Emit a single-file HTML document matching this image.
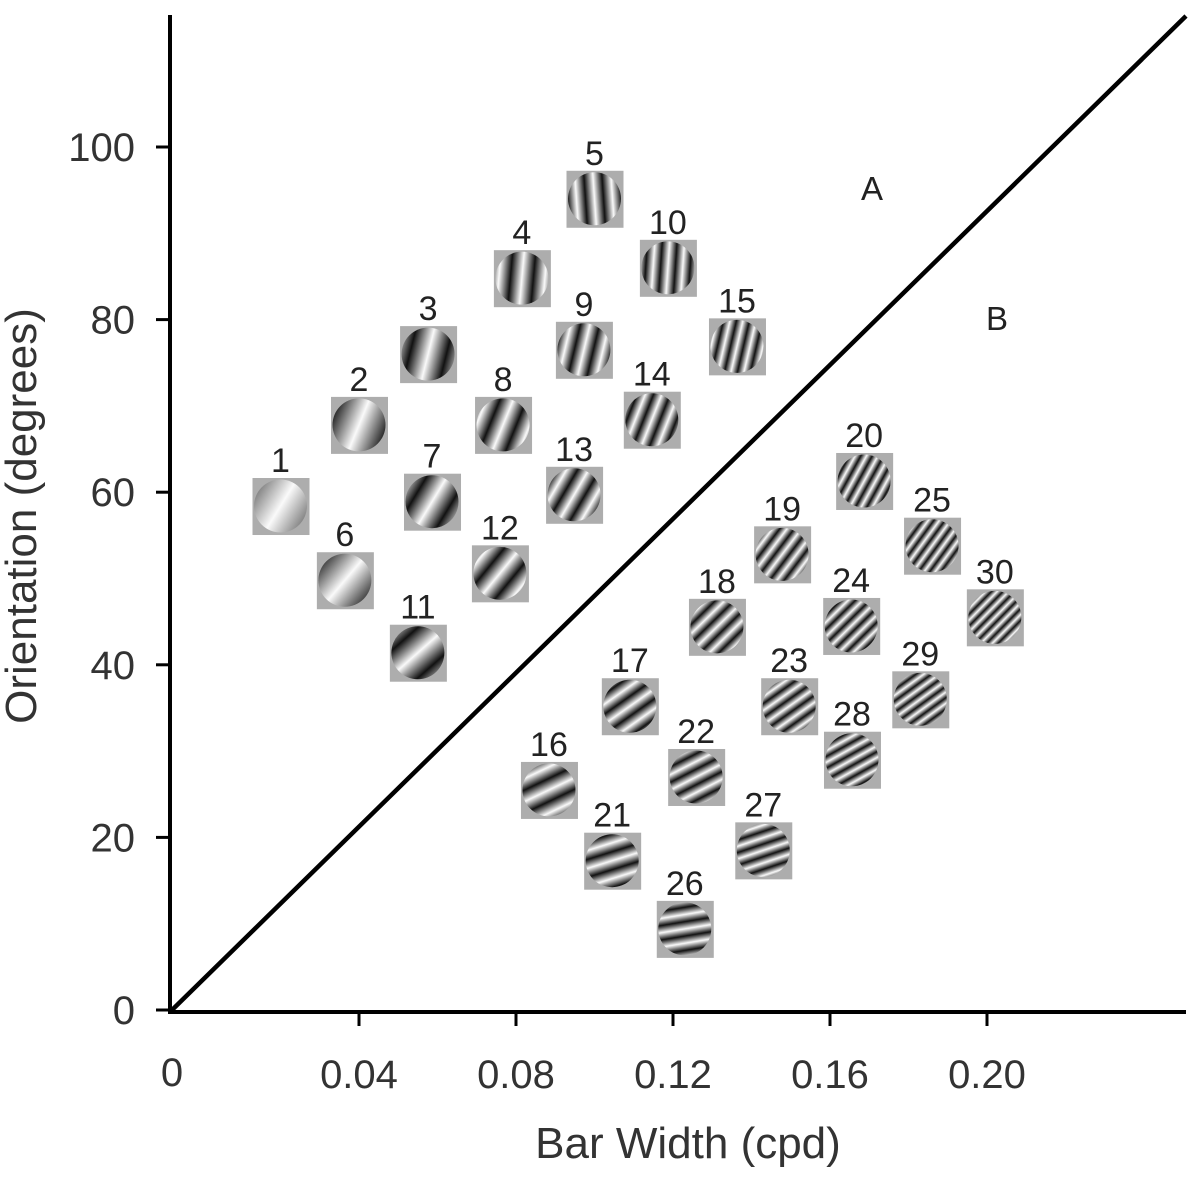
<!DOCTYPE html>
<html><head><meta charset="utf-8"><style>
html,body{margin:0;padding:0;background:#fff;}
svg{display:block;font-family:"Liberation Sans",sans-serif;}
</style></head><body>
<svg id="chart" width="1192" height="1188" viewBox="0 0 1192 1188" xmlns="http://www.w3.org/2000/svg">
<defs id="defs"></defs>
<g id="axes"></g>
<g id="patches"></g>
</svg>
<script>
const ids = [1,2,3,4,5,6,7,8,9,10,11,12,13,14,15,16,17,18,19,20,21,22,23,24,25,26,27,28,29,30];
const barWidth = [0.020,0.040,0.0576,0.0815,0.100,0.0364,0.0586,0.0767,0.0973,0.1187,0.055,0.0759,0.0948,0.1146,0.1363,0.0884,0.109,0.1312,0.1478,0.1687,0.1045,0.1259,0.1496,0.1654,0.186,0.123,0.143,0.1656,0.183,0.202];
const orientation = [58.4,67.8,76.0,84.8,94.0,49.8,58.9,67.8,76.5,86.0,41.4,50.6,59.7,68.4,76.9,25.5,35.2,44.4,52.8,61.3,17.3,27.0,35.2,44.5,53.8,9.4,18.5,29.0,36.0,45.5];
const xTicks = [0.04,0.08,0.12,0.16,0.20];
const xTickLabels = ["0.04","0.08","0.12","0.16","0.20"];
const yTicks = [0,20,40,60,80,100];
const yTickLabels = ["0","20","40","60","80","100"];

const NS="http://www.w3.org/2000/svg";
const X = v => 202 + v/0.04*157;
const Y = v => 1010 - v*8.63;
function mk(tag, attrs, parent){const e=document.createElementNS(NS,tag);for(const k in attrs)e.setAttribute(k,attrs[k]);parent.appendChild(e);return e;}
const axes=document.getElementById('axes'), defs=document.getElementById('defs'), pg=document.getElementById('patches');

let l=mk('line',{x1:170,y1:15,x2:170,y2:1013,stroke:'#000','stroke-width':4},axes);


l=mk('line',{x1:168,y1:1012,x2:1186,y2:1012,stroke:'#000','stroke-width':4},axes);


l=mk('line',{x1:172,y1:1010,x2:1186,y2:16,stroke:'#000','stroke-width':4.5},axes);



xTicks.forEach((t,i)=>{
  const tk=mk('line',{x1:X(t),y1:1012,x2:X(t),y2:1026,stroke:'#000','stroke-width':3},axes);
  
  
  const tx=mk('text',{x:X(t),y:1088,'text-anchor':'middle','font-size':40,fill:'#333'},axes);
  tx.textContent=xTickLabels[i];
  
  
});
let z=mk('text',{x:172,y:1086,'text-anchor':'middle','font-size':40,fill:'#333'},axes);
z.textContent='0';


yTicks.forEach((t,i)=>{
  const tk=mk('line',{x1:156,y1:Y(t),x2:170,y2:Y(t),stroke:'#000','stroke-width':3},axes);
  
  
  const tx=mk('text',{x:135,y:Y(t)+14,'text-anchor':'end','font-size':40,fill:'#333'},axes);
  tx.textContent=yTickLabels[i];
  
  
});
let t=mk('text',{x:688,y:1158,'text-anchor':'middle','font-size':44,fill:'#333'},axes);
t.textContent='Bar Width (cpd)';


t=mk('text',{x:0,y:0,'text-anchor':'middle','font-size':44,fill:'#333',transform:'translate(36,516) rotate(-90)'},axes);
t.textContent='Orientation (degrees)';


t=mk('text',{x:872,y:200,'text-anchor':'middle','font-size':33,fill:'#222'},axes);
t.textContent='A';


t=mk('text',{x:997,y:330,'text-anchor':'middle','font-size':33,fill:'#222'},axes);
t.textContent='B';



ids.forEach((id,i)=>{
  const cx=X(barWidth[i]), cy=Y(orientation[i]);
  const th=orientation[i]*Math.PI/180;
  const cycles=Math.max(0.5,35*barWidth[i]-0.5);
  const period=54/cycles;
  const dx=Math.sin(th)*period, dy=Math.cos(th)*period;
  const g=mk('linearGradient',{id:'g'+id,gradientUnits:'userSpaceOnUse',spreadMethod:'repeat',
    x1:cx-dx*0.5,y1:cy-dy*0.5,x2:cx+dx*0.5,y2:cy+dy*0.5},defs);
  mk('stop',{offset:'0','stop-color':'#111'},g);
  mk('stop',{offset:'0.5','stop-color':'#fafafa'},g);
  mk('stop',{offset:'1','stop-color':'#111'},g);
  const grp=mk('g',{},pg);
  
  
  mk('rect',{x:cx-28,y:cy-28,width:57,height:57,fill:'#adadad'},grp);
  mk('circle',{cx:cx,cy:cy,r:26.5,fill:'url(#g'+id+')'},grp);
  const lb=mk('text',{x:cx,y:cy-34,'text-anchor':'middle','font-size':34,fill:'#222'},grp);
  lb.textContent=String(id);
  
  
});
</script>
</body></html>
